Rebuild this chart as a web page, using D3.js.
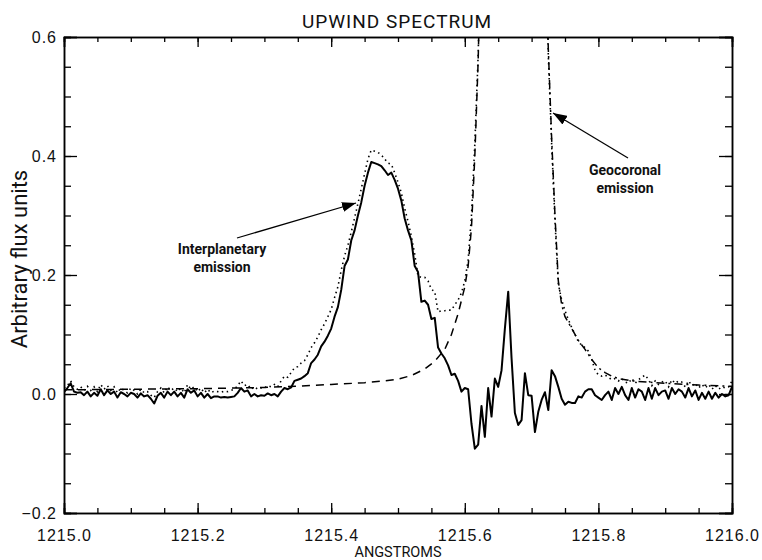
<!DOCTYPE html>
<html>
<head>
<meta charset="utf-8">
<script src="https://cdn.jsdelivr.net/npm/d3@7"></script>
<style>
body{margin:0;background:#fff;}
svg{display:block;}
</style>
</head>
<body>
<svg id="chart"></svg>
<script>
// wavelength grid of the spectrum, 0.005 A steps from 1215.0 to 1216.0
var waveStart = 1215.0, waveStep = 0.005, waveCount = 201;

// interplanetary emission after geocoronal subtraction (solid)
var netFlux = [
 0.003, 0.010, 0.018, 0.004, 0.002, 0.003,-0.002, 0.004,-0.004, 0.002,
-0.003, 0.008,-0.002, 0.006, 0.000, 0.004,-0.006, 0.003, 0.000,-0.004,
 0.002, 0.000,-0.006, 0.001,-0.004,-0.002,-0.008,-0.016,-0.003, 0.002,
-0.006, 0.004,-0.002, 0.004,-0.004, 0.002,-0.006, 0.008, 0.002, 0.006,
-0.004, 0.002,-0.006, 0.000,-0.007,-0.004,-0.004,-0.006,-0.005,-0.006,
-0.005,-0.004, 0.002, 0.010, 0.004, 0.006,-0.004, 0.000,-0.004,-0.002,
-0.003, 0.001,-0.002, 0.000,-0.004, 0.004, 0.010, 0.008, 0.011, 0.022,
 0.024, 0.026, 0.030, 0.035, 0.052, 0.058, 0.066, 0.080, 0.088, 0.098,
 0.110, 0.130, 0.146, 0.175, 0.215, 0.226, 0.258, 0.275, 0.300, 0.322,
 0.350, 0.372, 0.390, 0.388, 0.386, 0.383, 0.376, 0.368, 0.372, 0.360,
 0.345, 0.325, 0.295, 0.275, 0.258, 0.215, 0.205, 0.155, 0.157, 0.150,
 0.126, 0.128, 0.078, 0.068, 0.060, 0.048, 0.032, 0.034, 0.022, 0.004,
 0.010, 0.008,-0.050,-0.092,-0.085,-0.020,-0.072, 0.010,-0.038, 0.026,
 0.012, 0.040, 0.110, 0.172, 0.060,-0.032,-0.052,-0.044, 0.035,-0.002,
-0.003,-0.064,-0.030,-0.010, 0.003,-0.027, 0.040, 0.030, 0.012,-0.008,
-0.018,-0.013,-0.015,-0.015,-0.004,-0.006, 0.004, 0.008, 0.008,-0.002,
-0.006,-0.010,-0.002, 0.004,-0.010, 0.010, 0.000, 0.012,-0.002,-0.010,
 0.010,-0.006, 0.008, 0.004,-0.010, 0.010,-0.008, 0.010,-0.002, 0.004,
 0.006,-0.008, 0.010, 0.000, 0.008, 0.004,-0.006, 0.010,-0.004, 0.006,
-0.010, 0.002,-0.008, 0.004,-0.008, 0.002,-0.006, 0.000,-0.004,-0.002,
 0.012
];

// raw observed spectrum (dotted), line core is off scale
var rawFlux = [
 0.010, 0.014, 0.022, 0.012, 0.008, 0.012, 0.006, 0.013, 0.006, 0.012,
 0.004, 0.016, 0.008, 0.014, 0.006, 0.012, 0.002, 0.010, 0.006, 0.002,
 0.010, 0.006, 0.000, 0.008, 0.002, 0.004,-0.002,-0.006, 0.004, 0.010,
 0.002, 0.012, 0.006, 0.010, 0.004, 0.010, 0.002, 0.016, 0.008, 0.012,
 0.004, 0.010, 0.002, 0.008, 0.002, 0.005, 0.004, 0.003, 0.005, 0.004,
 0.006, 0.008, 0.014, 0.022, 0.014, 0.016, 0.008, 0.012, 0.008, 0.010,
 0.010, 0.014, 0.012, 0.016, 0.012, 0.022, 0.030, 0.028, 0.036, 0.044,
 0.046, 0.052, 0.056, 0.066, 0.078, 0.086, 0.096, 0.108, 0.118, 0.130,
 0.142, 0.162, 0.180, 0.208, 0.232, 0.250, 0.272, 0.296, 0.320, 0.345,
 0.370, 0.395, 0.410, 0.408, 0.406, 0.402, 0.395, 0.388, 0.386, 0.372,
 0.356, 0.338, 0.312, 0.290, 0.265, 0.235, 0.198, 0.196, 0.196, 0.190,
 0.176, 0.172, 0.138, 0.140, 0.140, 0.141, 0.141, 0.150, 0.158, 0.170,
 0.190, 0.225, 0.300, 0.420, 0.570, 0.800, null, null, null, null,
 null, null, null, null, null, null, null, null, null, null,
 null, null, null, null, 0.800, 0.570, 0.420, 0.290, 0.185, 0.158,
 0.140, 0.125, 0.112, 0.100, 0.088, 0.082, 0.078, 0.072, 0.058, 0.040,
 0.032, 0.030, 0.032, 0.028, 0.024, 0.026, 0.022, 0.026, 0.020, 0.018,
 0.026, 0.018, 0.024, 0.028, 0.032, 0.024, 0.014, 0.022, 0.016, 0.020,
 0.022, 0.012, 0.024, 0.018, 0.022, 0.020, 0.012, 0.022, 0.014, 0.018,
 0.010, 0.016, 0.010, 0.016, 0.008, 0.014, 0.008, 0.012, 0.010, 0.012,
 0.022
];

// geocoronal line model (dashed), blue and red wings
var geoBlueWave = [1215.00,1215.10,1215.20,1215.30,1215.35,1215.40,1215.45,1215.48,1215.50,1215.52,1215.54,1215.555,1215.57,1215.58,1215.59,1215.60,1215.605,1215.61,1215.615,1215.62,1215.625];
var geoBlueFlux = [0.007,0.008,0.009,0.011,0.013,0.016,0.019,0.022,0.025,0.031,0.042,0.055,0.075,0.100,0.135,0.180,0.215,0.280,0.400,0.560,0.800];
var geoRedWave = [1215.72,1215.725,1215.73,1215.735,1215.74,1215.745,1215.75,1215.755,1215.76,1215.77,1215.78,1215.79,1215.80,1215.81,1215.82,1215.83,1215.85,1215.90,1215.95,1216.00];
var geoRedFlux = [0.800,0.580,0.430,0.300,0.190,0.150,0.130,0.120,0.110,0.090,0.075,0.058,0.044,0.036,0.030,0.026,0.022,0.018,0.015,0.013];

var xTicks = [1215.0, 1215.2, 1215.4, 1215.6, 1215.8, 1216.0];
var yTicks = [-0.2, 0.0, 0.2, 0.4, 0.6];

(function (win){
	var W = 762, H = 560;
	var left = 64, right = 732, top = 37, bottom = 513;

	var svg = d3.select("#chart").attr("width", W).attr("height", H)
		.style("font-family", "Roboto, 'Liberation Sans', sans-serif");

	var x = d3.scaleLinear().domain([1215.0, 1216.0]).range([left, right]);
	var y = d3.scaleLinear().domain([-0.2, 0.6]).range([bottom, top]);

	var wave = d3.range(waveCount).map(function(i){ return waveStart + i*waveStep; });

	svg.append("clipPath").attr("id", "plotclip")
		.append("rect").attr("x", left).attr("y", top)
		.attr("width", right-left).attr("height", bottom-top);

	var defs = svg.append("defs");
	defs.append("marker")
		.attr("id", "arrow")
		.attr("markerUnits", "userSpaceOnUse")
		.attr("markerWidth", 14)
		.attr("markerHeight", 10)
		.attr("viewBox", "0 0 14 10")
		.attr("refX", 14)
		.attr("refY", 5)
		.attr("orient", "auto")
		.append("path")
		.attr("d", "M0,0 L14,5 L0,10 Z")
		.attr("fill", "#000");

	// axes, IDL box style: ticks on all four sides pointing inward
	var xMinor = d3.range(0, 21).map(function(i){ return 1215 + i*0.05; });
	var yMinor = d3.range(0, 17).map(function(i){ return -0.2 + i*0.05; });

	svg.append("g").attr("transform", "translate(0," + bottom + ")")
		.call(d3.axisBottom(x).tickValues(xMinor).tickSize(-5).tickFormat(""));
	svg.append("g").attr("transform", "translate(0," + bottom + ")")
		.call(d3.axisBottom(x).tickValues(xTicks).tickSize(-10).tickPadding(17)
			.tickFormat(d3.format(".1f")));
	svg.append("g").attr("transform", "translate(0," + top + ")")
		.call(d3.axisTop(x).tickValues(xMinor).tickSize(-5).tickFormat(""));
	svg.append("g").attr("transform", "translate(0," + top + ")")
		.call(d3.axisTop(x).tickValues(xTicks).tickSize(-10).tickFormat(""));

	svg.append("g").attr("transform", "translate(" + left + ",0)")
		.call(d3.axisLeft(y).tickValues(yMinor).tickSize(-7).tickFormat(""));
	svg.append("g").attr("transform", "translate(" + left + ",0)")
		.call(d3.axisLeft(y).tickValues(yTicks).tickSize(-13).tickPadding(7)
			.tickFormat(function(d){ return d3.format(".1f")(d).replace("-", "\u2212"); }));
	svg.append("g").attr("transform", "translate(" + right + ",0)")
		.call(d3.axisRight(y).tickValues(yMinor).tickSize(-7).tickFormat(""));
	svg.append("g").attr("transform", "translate(" + right + ",0)")
		.call(d3.axisRight(y).tickValues(yTicks).tickSize(-13).tickFormat(""));

	svg.selectAll(".domain").attr("stroke", "#000").attr("stroke-width", 1.5);
	svg.selectAll(".tick line").attr("stroke", "#000").attr("stroke-width", 1.3);
	svg.selectAll(".tick text").attr("fill", "#111")
		.style("font-size", "16px").style("font-family", "'Liberation Sans', Arial, sans-serif")
		.style("letter-spacing", "1px");

	// spectra
	var plot = svg.append("g").attr("clip-path", "url(#plotclip)");
	var line = d3.line()
		.defined(function(d){ return d[1] !== null; })
		.x(function(d){ return x(d[0]); })
		.y(function(d){ return y(d[1]); });

	plot.append("path")
		.datum(d3.zip(geoBlueWave, geoBlueFlux))
		.attr("d", line).attr("fill", "none").attr("stroke", "#000")
		.attr("stroke-width", 1.5).attr("stroke-dasharray", "8,6");
	plot.append("path")
		.datum(d3.zip(geoRedWave, geoRedFlux))
		.attr("d", line).attr("fill", "none").attr("stroke", "#000")
		.attr("stroke-width", 1.5).attr("stroke-dasharray", "8,4,2,4");
	plot.append("path")
		.datum(d3.zip(wave, rawFlux))
		.attr("d", line).attr("fill", "none").attr("stroke", "#000")
		.attr("stroke-width", 1.6).attr("stroke-dasharray", "1.5,3.5");
	plot.append("path")
		.datum(d3.zip(wave, netFlux))
		.attr("d", line).attr("fill", "none").attr("stroke", "#000")
		.attr("stroke-width", 2).attr("stroke-linejoin", "round");

	// titles
	svg.append("text").attr("x", 397).attr("y", 28).attr("text-anchor", "middle")
		.style("font-size", "19px").style("letter-spacing", "1px").attr("fill", "#111")
		.text("UPWIND SPECTRUM");
	svg.append("text").attr("x", 398).attr("y", 557).attr("text-anchor", "middle")
		.style("font-size", "14.5px").attr("fill", "#111")
		.text("ANGSTROMS");
	svg.append("text").attr("transform", "translate(27,259) rotate(-90)")
		.attr("text-anchor", "middle").style("font-size", "22px").attr("fill", "#111")
		.text("Arbitrary flux units");

	// annotations
	function note(lines, cx, cy){
		var t = svg.append("text").attr("text-anchor", "middle")
			.style("font-size", "14px").style("font-weight", "bold").attr("fill", "#111");
		lines.forEach(function(s, i){
			t.append("tspan").attr("x", cx).attr("y", cy + i*18).text(s);
		});
	}
	note(["Interplanetary", "emission"], 222, 254);
	note(["Geocoronal", "emission"], 625, 175);

	svg.append("line").attr("x1", 237).attr("y1", 238).attr("x2", 356).attr("y2", 203)
		.attr("stroke", "#000").attr("stroke-width", 1.2).attr("marker-end", "url(#arrow)");
	svg.append("line").attr("x1", 628).attr("y1", 158).attr("x2", 553).attr("y2", 113)
		.attr("stroke", "#000").attr("stroke-width", 1.2).attr("marker-end", "url(#arrow)");
}(window));
</script>
</body>
</html>
